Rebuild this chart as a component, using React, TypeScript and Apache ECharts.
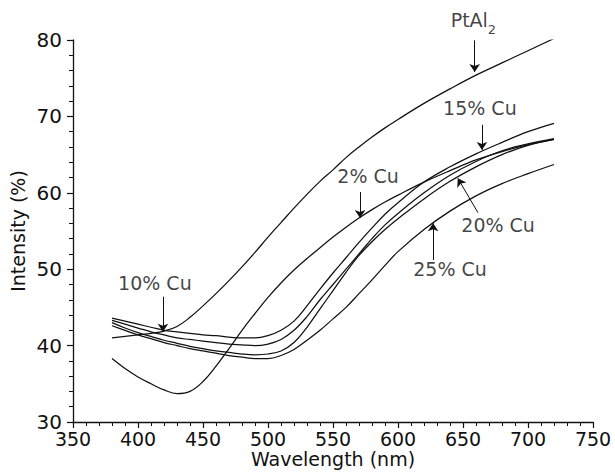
import React, { useEffect, useRef } from "react";
import * as echarts from "echarts";

// Wavelength samples (nm)
const wavelength = [380, 390, 400, 410, 420, 430, 440, 450, 460, 470, 480, 490, 500, 510, 520, 530, 540, 550, 560, 570, 580, 590, 600, 620, 640, 660, 680, 700, 720];

// Intensity (%) per sample
const ptAl2 = [41.0, 41.2, 41.4, 41.6, 41.9, 42.5, 43.7, 45.2, 46.8, 48.5, 50.3, 52.2, 54.2, 56.1, 58.0, 59.8, 61.5, 63.0, 64.6, 66.0, 67.3, 68.5, 69.6, 71.7, 73.6, 75.4, 77.0, 78.6, 80.2];
const cu2 = [38.3, 37.0, 35.9, 35.0, 34.2, 33.7, 34.0, 35.3, 37.3, 39.6, 42.0, 44.2, 46.3, 48.2, 49.9, 51.4, 52.8, 54.2, 55.5, 56.7, 57.8, 58.8, 59.7, 61.4, 62.9, 64.3, 65.4, 66.3, 67.0];
const cu10 = [43.3, 42.8, 42.3, 41.8, 41.4, 41.0, 40.8, 40.6, 40.4, 40.2, 40.1, 40.0, 40.2, 40.8, 42.0, 43.8, 46.0, 48.0, 50.0, 52.0, 54.0, 55.8, 57.3, 60.0, 62.3, 64.1, 65.5, 66.4, 67.1];
const cu15 = [43.6, 43.2, 42.8, 42.4, 42.0, 41.8, 41.6, 41.4, 41.3, 41.1, 41.0, 41.0, 41.3, 42.0, 43.2, 45.2, 47.4, 49.5, 51.5, 53.5, 55.4, 57.2, 58.7, 61.4, 63.4, 65.1, 66.6, 68.0, 69.1];
const cu20 = [43.0, 42.3, 41.7, 41.2, 40.7, 40.3, 39.9, 39.6, 39.3, 39.1, 38.9, 38.8, 38.9, 39.3, 40.4, 42.4, 44.8, 47.2, 49.6, 51.8, 53.6, 55.2, 56.6, 59.2, 61.5, 63.4, 65.0, 66.2, 67.0];
const cu25 = [42.6, 42.0, 41.4, 40.9, 40.4, 40.0, 39.6, 39.3, 39.0, 38.7, 38.5, 38.3, 38.3, 38.7, 39.5, 40.7, 42.0, 43.5, 45.0, 46.8, 48.6, 50.5, 52.3, 55.2, 57.6, 59.6, 61.2, 62.5, 63.7];

const seriesNames = ["PtAl2", "2% Cu", "10% Cu", "15% Cu", "20% Cu", "25% Cu"];
const seriesValues = [ptAl2, cu2, cu10, cu15, cu20, cu25];

// Annotations (data coordinates: [nm, %])
const annotationTexts = ["{a|PtAl}{b|2}", "{a|15% Cu}", "{a|2% Cu}", "{a|10% Cu}", "{a|20% Cu}", "{a|25% Cu}"];
const annotationTextPos = [[658, 82.2], [663, 70.7], [577, 61.8], [413, 47.8], [677, 55.3], [640, 49.6]];
const arrowTails = [[659, 79.95], [664.6, 68.9], [570.8, 60.1], [419.2, 46.4], [661.5, 57.4], [627, 51.2]];
const arrowTips = [[659, 75.8], [664.6, 65.6], [570.8, 56.7], [419.2, 41.8], [646, 61.9], [627, 56.0]];

const FONT = "DejaVu Sans";
const INK = "#111";

export default function App() {
  const ref = useRef<HTMLDivElement>(null);
  useEffect(() => {
    if (!ref.current) return;
    const chart = echarts.init(ref.current, null, { renderer: "svg" });
    const axisCommon = {
      type: "value" as const,
      nameLocation: "middle" as const,
      nameMoveOverlap: false,
      axisLine: { show: true, lineStyle: { color: INK, width: 1.3 } },
      axisTick: { show: true, inside: false, length: 6, lineStyle: { color: INK, width: 1.2 } },
      minorTick: { show: true, splitNumber: 5, length: 4, lineStyle: { color: INK, width: 1 } },
      splitLine: { show: false },
      minorSplitLine: { show: false },
    };
    const option: any = {
      animation: false,
      backgroundColor: "#fff",
      grid: { left: 73, right: 22, top: 40, bottom: 53, containLabel: false, outerBoundsMode: "none" },
      xAxis: {
        ...axisCommon,
        min: 350,
        max: 750,
        interval: 50,
        name: "Wavelength (nm)",
        nameGap: 29,
        nameTextStyle: { fontFamily: FONT, fontSize: 19, color: INK, lineHeight: 16 },
        axisLabel: { margin: 9, fontSize: 19, lineHeight: 16, color: INK, fontFamily: FONT, showMinLabel: true, showMaxLabel: true },
      },
      yAxis: {
        ...axisCommon,
        min: 30,
        max: 80,
        interval: 10,
        name: "Intensity (%)",
        nameGap: 46,
        nameTextStyle: { fontFamily: FONT, fontSize: 19, color: INK },
        axisLabel: { margin: 11, fontSize: 20, color: INK, fontFamily: FONT, showMinLabel: true, showMaxLabel: true },
      },
      series: [
        ...seriesNames.map((name, k) => ({
          name,
          type: "line",
          smooth: 0.4,
          symbol: "none",
          lineStyle: { color: INK, width: 1.25 },
          data: wavelength.map((w, i) => [w, seriesValues[k][i]]),
        })),
        {
          name: "annotations",
          type: "scatter",
          clip: false,
          symbolSize: 1,
          itemStyle: { color: "transparent" },
          silent: true,
          label: {
            show: true,
            position: "inside",
            color: INK,
            fontFamily: FONT,
            rich: {
              a: { fontFamily: FONT, fontSize: 19, color: INK, verticalAlign: "top", lineHeight: 26 },
              b: { fontFamily: FONT, fontSize: 13, color: INK, verticalAlign: "bottom", lineHeight: 11 },
            },
          },
          data: annotationTextPos.map((p, i) => ({
            value: p,
            label: { formatter: annotationTexts[i] },
          })),
          markLine: {
            silent: true,
            symbol: ["none", "arrow"],
            symbolSize: 8,
            label: { show: false },
            lineStyle: { type: "solid", color: INK, width: 1 },
            emphasis: { disabled: true },
            data: arrowTails.map((t, i) => [{ coord: t }, { coord: arrowTips[i] }]),
          },
        },
      ],
    };
    chart.setOption(option);
    return () => chart.dispose();
  }, []);
  return (
    <div
      ref={ref}
      style={{ position: "fixed", left: 0, top: 0, width: 615, height: 475, background: "#fff" }}
    />
  );
}
